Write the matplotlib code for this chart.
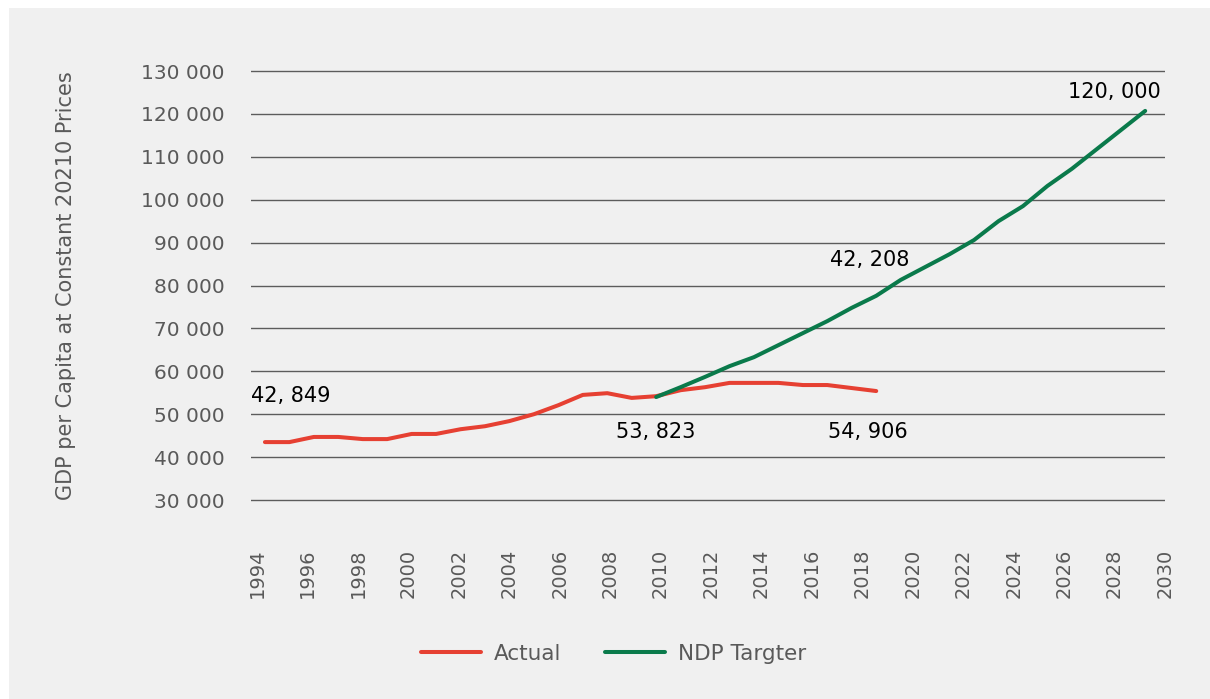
import matplotlib
matplotlib.use('Agg')
import matplotlib.pyplot as plt
from matplotlib.patches import Rectangle
from matplotlib.ticker import FuncFormatter

# Данные
actual_years = list(range(1994, 2020))
actual_values = [43500, 43500, 44700, 44700, 44200, 44200, 45400, 45400, 46500, 47200,
                 48400, 50000, 52100, 54500, 54900, 53800, 54200, 55600, 56300, 57300,
                 57300, 57300, 56800, 56800, 56100, 55400]

target_years = list(range(2010, 2031))
target_values = [54000, 56300, 58700, 61200, 63300, 66100, 68900, 71700, 74800, 77600,
                 81300, 84300, 87300, 90600, 95000, 98500, 103200, 107200, 111700, 116200,
                 120700]

y_ticks = list(range(30000, 130001, 10000))
x_ticks = list(range(1994, 2031, 2))

# Подписи значений: текст -> индекс точки
labels_actual = {'42, 849': 0, '54, 906': -1}
labels_target = {'53, 823': 0, '42, 208': 9, '120, 000': -1}

red = '#e64032'
green = '#0a7a4b'
grey = '#595959'

fig = plt.figure(figsize=(12.1, 6.99), dpi=100)
fig.patch.set_facecolor('white')
fig.patches.append(Rectangle((9 / 1210, 0), 1, 691 / 699, transform=fig.transFigure,
                             facecolor='#f0f0f0', edgecolor='none', zorder=-10))

ax = fig.add_axes([251 / 1210, 0.2724, 914 / 1210, 0.9107 - 0.2724])
ax.set_facecolor('none')

ax.plot(actual_years, actual_values, color=red, lw=2.9, solid_capstyle='round',
        label='Actual', zorder=3)
ax.plot(target_years, target_values, color=green, lw=2.9, solid_capstyle='round',
        label='NDP Targter', zorder=4)

ax.set_xlim(1993.43, 2030.81)
ax.set_ylim(28000, 132000)
ax.set_yticks(y_ticks)
ax.yaxis.set_major_formatter(FuncFormatter(lambda v, p: f'{int(v):,}'.replace(',', ' ')))
ax.tick_params(axis='y', length=0, pad=19, labelsize=14.5, labelcolor=grey)
ax.set_xticks([])
ax.grid(axis='y', color='#5c5c5c', lw=1.0)
ax.set_axisbelow(True)
for s in ax.spines.values():
    s.set_visible(False)

ax.set_ylabel('GDP per Capita at Constant 20210 Prices', fontsize=15, color=grey,
              labelpad=47)

# Ось с подписями годов
ax2 = ax.twiny()
ax2.set_xlim(1993.76, 2030.0)
ax2.xaxis.set_ticks_position('bottom')
ax2.set_xticks(x_ticks)
ax2.set_xticklabels([str(y) for y in x_ticks], rotation=90)
ax2.tick_params(axis='x', length=0, pad=29, labelsize=14, labelcolor=grey)
for s in ax2.spines.values():
    s.set_visible(False)

# Подписи значений
offsets = {'42, 849': (-14, 46, 'left'), '54, 906': (-8, -41, 'center'),
           '53, 823': (0, -35, 'center'), '42, 208': (-7, 36, 'center'),
           '120, 000': (-31, 19, 'center')}
for text, i in labels_actual.items():
    dx, dy, ha = offsets[text]
    ax.annotate(text, (actual_years[i], actual_values[i]), xytext=(dx, dy),
                textcoords='offset pixels', ha=ha, va='center', fontsize=15, color='#000000')
for text, i in labels_target.items():
    dx, dy, ha = offsets[text]
    ax.annotate(text, (target_years[i], target_values[i]), xytext=(dx, dy),
                textcoords='offset pixels', ha=ha, va='center', fontsize=15, color='#000000')

fig.legend(loc='center', bbox_to_anchor=(0.507, 0.065), ncol=2, frameon=False,
           fontsize=15.5, labelcolor=grey, handlelength=2.8, handletextpad=0.6,
           columnspacing=2.0)

fig.savefig('out.png', dpi=100, facecolor=fig.get_facecolor())
